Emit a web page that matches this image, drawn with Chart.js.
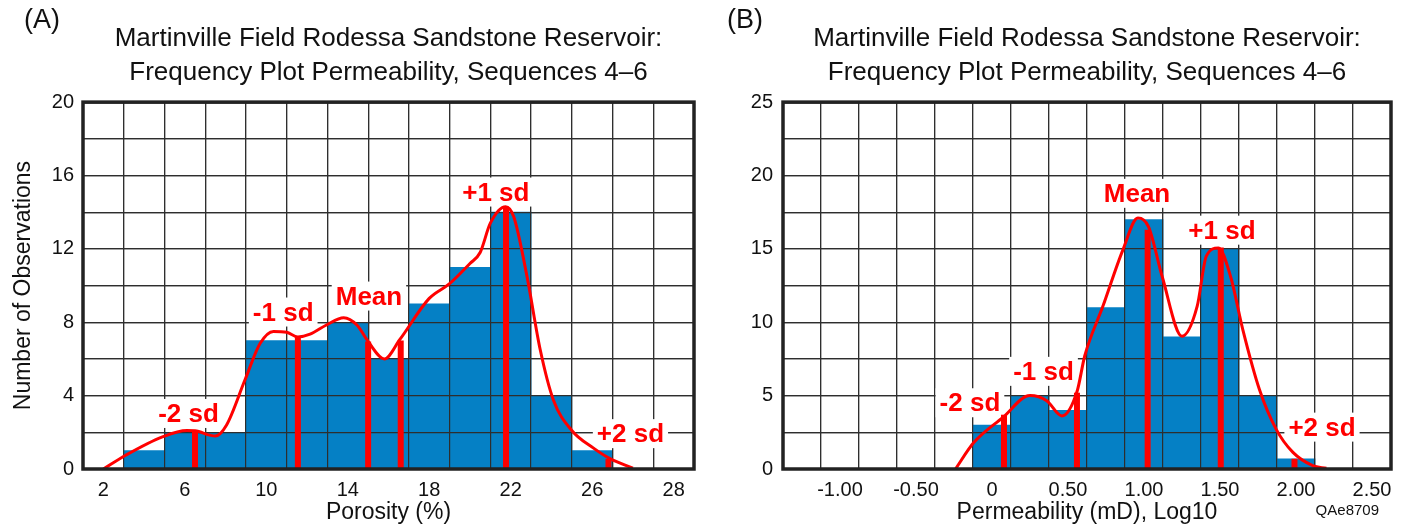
<!DOCTYPE html>
<html>
<head>
<meta charset="utf-8">
<title>Martinville Field Rodessa Sandstone Reservoir</title>
<script src="https://cdn.jsdelivr.net/npm/chart.js@4/dist/chart.umd.min.js"></script>
<style>
  html, body { margin: 0; padding: 0; background: #fff; }
  .wrap  { display: flex; width: 1408px; height: 529px; }
  .panel { position: relative; width: 704px; height: 529px; }
</style>
</head>
<body>
<div class="wrap">
  <div class="panel"><canvas id="chartA"></canvas></div>
  <div class="panel"><canvas id="chartB"></canvas></div>
</div>

<script>
// ---- Panel A: porosity (bins are 2 % wide, keyed by their centre) ----
const PORO_BINS        = [2, 4, 6, 8, 10, 12, 14, 16, 18, 20, 22, 24, 26, 28, 30];
const PORO_COUNTS      = [0, 1, 2, 2, 7, 7, 8, 6, 9, 11, 14, 4, 1, 0, 0];
const PORO_TICKS       = [2, 6, 10, 14, 18, 22, 26, 30];
const PORO_TICK_LABELS = ['2', '6', '10', '14', '18', '22', '26', '28'];
const PORO_CURVE_X = [2.0, 3.1, 4.9, 6.1, 6.5, 7.5, 8.05, 8.95, 9.7, 10.35, 11.0, 11.55, 12.15, 12.95,
                      13.8, 14.45, 15.0, 15.8, 16.55, 18.0, 19.0, 20.0, 20.5, 21.0, 21.75, 22.15,
                      22.8, 23.45, 24.1, 25.0, 26.05, 26.85, 28.0];
const PORO_CURVE_Y = [0, 0.75, 1.75, 2.1, 2.08, 1.8, 2.4, 4.85, 6.85, 7.5, 7.45, 7.2, 7.35, 7.85,
                      8.25, 7.85, 6.95, 6.0, 7.05, 9.3, 10.1, 11.2, 11.8, 13.4, 14.3, 13.75,
                      10.5, 6.5, 3.75, 2.1, 1.15, 0.58, 0.05];
const PORO_SD_X    = [6.5, 11.55, 15.0, 16.6, 21.77, 26.8];
const PORO_SD_TOP  = [2.08, 7.2, 6.95, 7.0, 14.3, 0.55];
const PORO_LABEL_X = [6.18, 10.83, 15.04, 21.27, 27.88];
const PORO_LABEL_Y = [3.0, 8.53, 9.4, 15.07, 1.9];

// ---- Panel B: log10 permeability (bins are 0.25 wide) ----
const PERM_BINS        = [-1.25, -1.0, -0.75, -0.5, -0.25, 0, 0.25, 0.5, 0.75, 1.0, 1.25, 1.5, 1.75, 2.0, 2.25, 2.5];
const PERM_COUNTS      = [0, 0, 0, 0, 0, 3, 5, 4, 11, 17, 9, 15, 5, 0.7, 0, 0];
const PERM_TICKS       = [-1.0, -0.5, 0, 0.5, 1.0, 1.5, 2.0, 2.5];
const PERM_TICK_LABELS = ['-1.00', '-0.50', '0', '0.50', '1.00', '1.50', '2.00', '2.50'];
const PERM_CURVE_X = [-0.24, -0.12, 0.07, 0.25, 0.36, 0.46, 0.56, 0.61, 0.73, 0.86, 0.96, 1.03,
                      1.12, 1.25, 1.35, 1.41, 1.49, 1.57, 1.65, 1.76, 1.87, 1.98, 2.11, 2.2];
const PERM_CURVE_Y = [0, 1.8, 3.5, 5.0, 4.65, 3.62, 5.3, 7.7, 11.1, 14.9, 17.1, 16.5,
                      13.1, 9.05, 11.1, 14.5, 15.06, 13.1, 9.5, 5.4, 2.7, 1.13, 0.23, 0.05];
const PERM_SD_X    = [0.079, 0.559, 1.024, 1.505, 1.99];
const PERM_SD_TOP  = [3.7, 5.2, 16.3, 15.1, 0.7];
const PERM_LABEL_X = [-0.145, 0.339, 0.954, 1.513, 2.171];
const PERM_LABEL_Y = [4.48, 6.62, 18.75, 16.24, 2.82];

const SD_LABELS = ['-2 sd', '-1 sd', 'Mean', '+1 sd', '+2 sd'];
const TITLE = ['Martinville Field Rodessa Sandstone Reservoir:', 'Frequency Plot Permeability, Sequences 4\u20136'];

const FONT     = '"Liberation Sans", Arial, sans-serif';
const BAR_BLUE = '#0580c5';
const RED      = '#ff0000';
const GRID     = '#2e2e2e';
const INK      = '#111';

Chart.defaults.font.family = FONT;

// Bars sit under the grid, the curve and sd lines sit over it,
// so the grid gets redrawn right after the bar dataset.
const histoDecor = {
  id: 'histoDecor',
  afterDatasetDraw(chart, args, opts) {
    if (args.meta.type !== 'bar') return;
    const { ctx, chartArea, scales } = chart;
    scales.x.drawGrid(chartArea);
    scales.y.drawGrid(chartArea);

    // sd labels with a white box knocking out the grid behind them
    ctx.save();
    ctx.font = `bold 26px ${FONT}`;
    ctx.textAlign = 'center';
    ctx.textBaseline = 'middle';
    opts.text.forEach((t, i) => {
      const px = scales.x.getPixelForValue(opts.x[i]);
      const py = scales.y.getPixelForValue(opts.y[i]);
      const w  = ctx.measureText(t).width;
      ctx.fillStyle = '#fff';
      ctx.fillRect(px - w / 2 - 4, py - 15, w + 8, 29);
      ctx.fillStyle = RED;
      ctx.fillText(t, px, py + 1);
    });
    ctx.restore();
  },
  afterDraw(chart, args, opts) {
    const { ctx, chartArea: a } = chart;
    ctx.save();
    ctx.lineWidth = 3.5;
    ctx.strokeStyle = '#222';
    ctx.strokeRect(a.left, a.top, a.right - a.left, a.bottom - a.top);

    ctx.fillStyle = INK;
    ctx.textBaseline = 'middle';
    ctx.textAlign = 'left';
    ctx.font = `27px ${FONT}`;
    ctx.fillText(opts.tag, opts.tagX, 21);
    if (opts.code) {
      ctx.font = `15px ${FONT}`;
      ctx.textAlign = 'right';
      ctx.fillText(opts.code, a.right - 12, 511);
    }
    ctx.restore();
  },
};

function makeHistogram(canvas, cfg) {
  const half   = cfg.binWidth / 2;
  const bounds = [cfg.bins[0] - half, ...cfg.bins.map(b => b + half)];
  const xMin   = bounds[0];
  const xMax   = bounds[bounds.length - 1];
  const tickFont  = { size: 20 };
  const titleFont = { size: 23 };

  const datasets = [
    {
      type: 'bar',
      data: cfg.bins.map((b, i) => ({ x: b, y: cfg.counts[i] })),
      backgroundColor: BAR_BLUE,
      borderWidth: 0,
      barPercentage: 1,
      categoryPercentage: 1,
      xAxisID: 'x',
      order: 3,
    },
    {
      type: 'line',
      data: cfg.curveX.map((x, i) => ({ x, y: cfg.curveY[i] })),
      borderColor: RED,
      borderWidth: 3,
      pointRadius: 0,
      fill: false,
      cubicInterpolationMode: 'monotone',
      xAxisID: 'x',
      order: 2,
    },
    // one short thick line per sd marker, from the axis up to the curve
    ...cfg.sdX.map((x, i) => ({
      type: 'line',
      data: [{ x, y: 0 }, { x, y: cfg.sdTop[i] }],
      borderColor: RED,
      borderWidth: 6,
      borderCapStyle: 'butt',
      pointRadius: 0,
      fill: false,
      xAxisID: 'x',
      order: 1,
    })),
  ];

  return new Chart(canvas, {
    type: 'bar',
    data: { datasets },
    options: {
      responsive: true,
      maintainAspectRatio: false,
      animation: false,
      layout: { padding: { left: 0, right: cfg.padRight, top: 0, bottom: 0 } },
      plugins: {
        legend: { display: false },
        tooltip: { enabled: false },
        title: {
          display: true,
          fullSize: false,
          text: TITLE,
          color: INK,
          font: { size: 26, weight: 'normal', lineHeight: 1.31 },
          padding: { top: 22, bottom: 12 },
        },
        histoDecor: {
          text: SD_LABELS, x: cfg.labelX, y: cfg.labelY,
          tag: cfg.tag, tagX: cfg.tagX, code: cfg.code,
        },
      },
      scales: {
        // grid-only axis: a line at every bin edge
        x: {
          type: 'linear',
          offset: false,
          min: xMin, max: xMax,
          afterBuildTicks: s => { s.ticks = bounds.map(v => ({ value: v })); },
          grid: { color: GRID, lineWidth: 1.2, drawTicks: false, offset: false },
          border: { display: false },
          ticks: { display: false },
        },
        // label-only axis: numbers under the bin centres
        xt: {
          type: 'linear',
          position: 'bottom',
          offset: false,
          min: xMin, max: xMax,
          afterBuildTicks: s => { s.ticks = cfg.tickAt.map(v => ({ value: v })); },
          grid: { display: false, drawTicks: false, offset: false },
          border: { display: false },
          ticks: {
            color: INK, font: tickFont, padding: 9,
            autoSkip: false, maxRotation: 0,
            callback: (v, i) => cfg.tickLabels[i],
          },
          title: { display: true, text: cfg.xTitle, color: INK, font: titleFont, padding: { top: 0, bottom: 3 } },
          afterFit: s => { s.height = 60; },
        },
        y: {
          min: 0, max: cfg.yMax,
          ticks: {
            stepSize: cfg.yStep,
            color: INK, font: tickFont, padding: cfg.yPad,
            callback: v => (v % cfg.yLabelEvery === 0 ? v : ''),
          },
          grid: { color: GRID, lineWidth: 1.2, drawTicks: false },
          border: { display: false },
          title: {
            display: !!cfg.yTitle, text: cfg.yTitle || '',
            color: INK, font: titleFont, padding: { top: 10, bottom: 0 },
          },
          afterFit: s => { s.width = cfg.left; },
        },
      },
    },
    plugins: [histoDecor],
  });
}

makeHistogram(document.getElementById('chartA'), {
  bins: PORO_BINS, counts: PORO_COUNTS, binWidth: 2,
  tickAt: PORO_TICKS, tickLabels: PORO_TICK_LABELS,
  curveX: PORO_CURVE_X, curveY: PORO_CURVE_Y,
  sdX: PORO_SD_X, sdTop: PORO_SD_TOP,
  labelX: PORO_LABEL_X, labelY: PORO_LABEL_Y,
  yMax: 20, yStep: 2, yLabelEvery: 4, yPad: 9,
  xTitle: 'Porosity (%)', yTitle: 'Number of Observations',
  left: 83, padRight: 10, tag: '(A)', tagX: 24,
});

makeHistogram(document.getElementById('chartB'), {
  bins: PERM_BINS, counts: PERM_COUNTS, binWidth: 0.25,
  tickAt: PERM_TICKS, tickLabels: PERM_TICK_LABELS,
  curveX: PERM_CURVE_X, curveY: PERM_CURVE_Y,
  sdX: PERM_SD_X, sdTop: PERM_SD_TOP,
  labelX: PERM_LABEL_X, labelY: PERM_LABEL_Y,
  yMax: 25, yStep: 2.5, yLabelEvery: 5, yPad: 10,
  xTitle: 'Permeability (mD), Log10', yTitle: null,
  left: 79, padRight: 17, tag: '(B)', tagX: 23, code: 'QAe8709',
});
</script>
</body>
</html>
